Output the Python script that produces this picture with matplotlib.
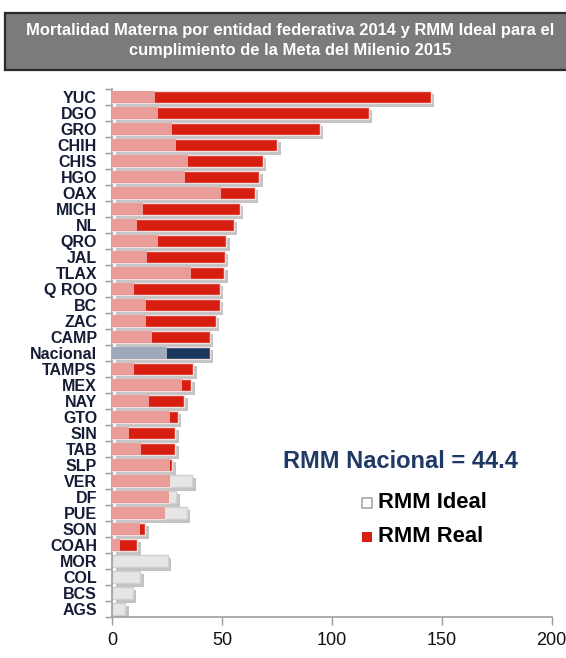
import matplotlib
matplotlib.use("Agg")
import matplotlib.pyplot as plt
import matplotlib.patheffects as pe
from matplotlib.patches import Rectangle
import numpy as np

plt.rcParams['font.family'] = ['Liberation Sans', 'DejaVu Sans']

estados = ["YUC", "DGO", "GRO", "CHIH", "CHIS", "HGO", "OAX", "MICH", "NL", "QRO",
           "JAL", "TLAX", "Q ROO", "BC", "ZAC", "CAMP", "Nacional", "TAMPS", "MEX", "NAY",
           "GTO", "SIN", "TAB", "SLP", "VER", "DF", "PUE", "SON", "COAH", "MOR",
           "COL", "BCS", "AGS"]
rmm_real = [145.0, 116.8, 94.5, 75.1, 68.4, 66.9, 64.8, 58.1, 55.4, 51.8,
            51.2, 51.0, 49.0, 49.0, 47.0, 44.3, 44.4, 36.9, 36.0, 32.8,
            29.8, 28.7, 28.7, 27.2, 26.4, 25.9, 24.0, 14.9, 11.4, 0.0,
            0.0, 0.0, 0.0]
rmm_ideal = [19.6, 20.7, 27.0, 29.0, 34.6, 33.1, 49.5, 14.0, 11.2, 20.9,
             15.9, 36.0, 9.9, 15.5, 15.5, 18.1, 24.9, 9.9, 31.9, 16.7,
             26.4, 7.6, 13.2, 26.3, 36.3, 29.1, 34.0, 12.6, 3.5, 25.2,
             12.8, 9.3, 5.9]
xticks = [0, 50, 100, 150, 200]
nacional_txt = "RMM Nacional = 44.4"

RED = "#d71e10"
PINK = "#e99c98"
GREY = "#e6e6e6"
NAVY = "#1b365d"
NAVY_L = "#9eaaba"
LABEL = "#151c35"

fig = plt.figure(figsize=(5.66, 6.58), dpi=100)

# Title box
fig.patches.append(Rectangle((5/566, 1-69.5/658), 1.0, 57/658, transform=fig.transFigure,
                             facecolor="#7b7b7b", edgecolor="#2a2a2a", linewidth=1.6))
fig.text(290/566, 1-30/658, "Mortalidad Materna por entidad federativa 2014 y RMM Ideal para el",
         ha="center", va="center", color="white", fontsize=11.9, fontweight="bold")
fig.text(290/566, 1-51/658, "cumplimiento de la Meta del Milenio 2015",
         ha="center", va="center", color="white", fontsize=11.9, fontweight="bold")

ax = fig.add_axes([112.3/566, 1-617/658, (551.7-112.3)/566, (617-89)/658])
n = len(estados)
y = np.arange(n)
real = np.array(rmm_real)
ideal = np.array(rmm_ideal)
h = 0.78

shadow = [pe.SimplePatchShadow(offset=(2.5, -2.5), shadow_rgbFace="#888888", alpha=0.5), pe.Normal()]

for i in range(n):
    nac = estados[i] == "Nacional"
    c_real = NAVY if nac else RED
    c_ideal = NAVY_L if nac else PINK
    env = max(real[i], ideal[i])
    ax.barh(y[i], env, height=h, color="white", edgecolor="none", path_effects=shadow, zorder=1)
    if ideal[i] > real[i]:
        ax.barh(y[i], ideal[i], height=h, color=GREY, edgecolor="#d0d0d0", linewidth=1, zorder=2)
    if real[i] > 0:
        ax.barh(y[i], real[i], height=h, color=c_real, edgecolor="#f4dede", linewidth=1, zorder=3)
    lo = min(real[i], ideal[i])
    if lo > 0:
        ax.barh(y[i], lo, height=h, color=c_ideal, edgecolor="none", zorder=4)

ax.set_ylim(n - 0.5, -0.5)
ax.set_xlim(0, 200)
ax.set_yticks(y)
ax.set_yticklabels(estados, fontsize=11.5, fontweight="bold", color=LABEL)
ax.set_yticks(np.arange(-0.5, n, 1.0), minor=True)
ax.tick_params(axis="y", which="major", length=0, pad=11)
ax.tick_params(axis="y", which="minor", length=5, color="#999999", width=1)
ax.set_xticks(xticks)
ax.set_xticklabels([str(t) for t in xticks], fontsize=13, color="#111111")
ax.tick_params(axis="x", length=6, color="#999999", width=1, pad=5)
for s in ["top", "right"]:
    ax.spines[s].set_visible(False)
for s in ["left", "bottom"]:
    ax.spines[s].set_color("#a0a0a0")
    ax.spines[s].set_linewidth(1.2)

# Annotations / legend
fig.text(400/566, 1-462/658, nacional_txt, ha="center", va="center",
         color="#1f3864", fontsize=17, fontweight="bold")
fig.patches.append(Rectangle((362/566, 1-508/658), 10/566, 10/658, transform=fig.transFigure,
                             facecolor="white", edgecolor="#aaaaaa", linewidth=1.2))
fig.text(378/566, 1-503/658, "RMM Ideal", ha="left", va="center",
         color="black", fontsize=15.8, fontweight="bold")
fig.patches.append(Rectangle((362/566, 1-542/658), 10/566, 10/658, transform=fig.transFigure,
                             facecolor=RED, edgecolor="none"))
fig.text(378/566, 1-537/658, "RMM Real", ha="left", va="center",
         color="black", fontsize=15.8, fontweight="bold")

fig.savefig("out.png", dpi=100)
